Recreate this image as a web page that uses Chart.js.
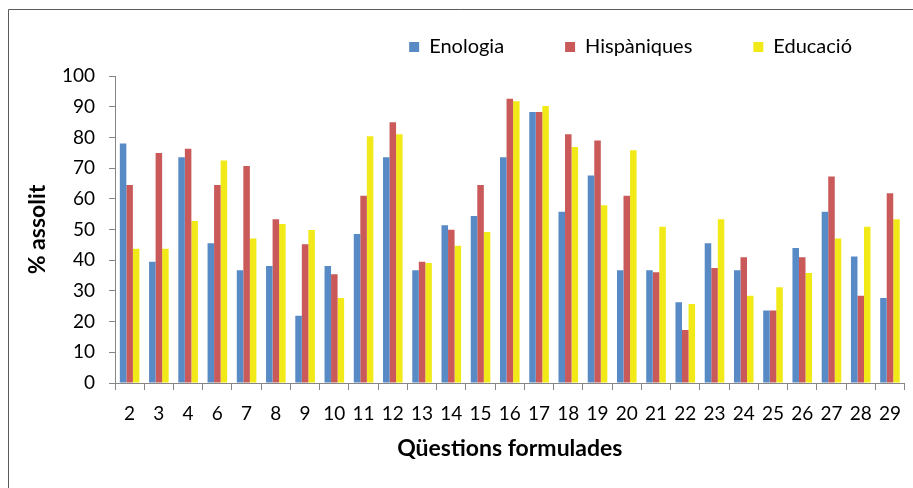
<!DOCTYPE html>
<html>
<head>
<meta charset="utf-8">
<script src="https://cdn.jsdelivr.net/npm/chart.js@4/dist/chart.umd.min.js"></script>
<style>
  html, body { margin: 0; padding: 0; background: #fff; }
  #wrap { width: 913px; height: 488px; }
</style>
</head>
<body>
<div id="wrap"><canvas id="graph" width="913" height="488"></canvas></div>
<script>
const questions = ['2','3','4','6','7','8','9','10','11','12','13','14','15','16','17','18','19','20','21','22','23','24','25','26','27','28','29']
const enologia = [78.0, 39.5, 73.5, 45.5, 36.7, 38.1, 21.9, 38.1, 48.5, 73.5, 36.7, 51.4, 54.4, 73.5, 88.3, 55.8, 67.6, 36.7, 36.7, 26.3, 45.5, 36.7, 23.6, 44.0, 55.8, 41.2, 27.7]
const hispaniques = [64.5, 74.9, 76.3, 64.5, 70.7, 53.3, 45.2, 35.4, 61.0, 84.9, 39.5, 49.9, 64.5, 92.6, 88.3, 81.0, 79.0, 61.0, 36.1, 17.3, 37.5, 41.0, 23.6, 41.0, 67.3, 28.4, 61.8]
const educacio = [43.7, 43.7, 52.8, 72.5, 47.1, 51.8, 49.8, 27.7, 80.4, 81.0, 39.1, 44.7, 49.2, 91.8, 90.2, 76.9, 57.9, 75.8, 50.9, 25.7, 53.3, 28.4, 31.2, 35.8, 47.1, 50.9, 53.3]

const FONT = "Lato"
const axisGrey = '#868686'

// fixed legend height so the plot starts where the original does
const legendBox = {
    id: 'legendBox',
    afterInit(chart) {
        const lg = chart.legend
        const fit = lg.fit
        lg.fit = function () {
            fit.call(this)
            this.height = 100
        }
    }
}

// the grey frame (only left and top show in the original)
const frame = {
    id: 'frame',
    afterDraw(chart) {
        const c = chart.ctx
        c.save()
        c.strokeStyle = '#5a5a5a'
        c.lineWidth = 1
        c.beginPath()
        c.moveTo(8.5, 488)
        c.lineTo(8.5, 9.5)
        c.lineTo(913, 9.5)
        c.stroke()
        c.restore()
    }
}

const ctx = document.querySelector('#graph').getContext('2d')

new Chart(ctx, {
    type: 'bar',
    data: {
        labels: questions,
        datasets: [
            { label: 'Enologia', data: enologia, backgroundColor: '#588ac5' },
            { label: 'Hispàniques', data: hispaniques, backgroundColor: '#c95a59' },
            { label: 'Educació', data: educacio, backgroundColor: '#f2ea18' }
        ]
    },
    options: {
        responsive: false,
        animation: false,
        devicePixelRatio: 1,
        datasets: {
            bar: { categoryPercentage: 0.67, barPercentage: 1.0 }
        },
        layout: { padding: { top: -24, left: 0, right: 0, bottom: 0 } },
        plugins: {
            tooltip: { enabled: false },
            legend: {
                position: 'top',
                align: 'end',
                labels: {
                    boxWidth: 10,
                    boxHeight: 10,
                    padding: 61,
                    color: '#000',
                    font: { family: FONT, size: 20 }
                }
            }
        },
        scales: {
            x: {
                afterFit(scale) { scale.height = 105 },
                grid: { drawOnChartArea: false, drawTicks: true, tickLength: 7, color: axisGrey },
                border: { color: axisGrey },
                ticks: { color: '#000', padding: 12, maxRotation: 0, autoSkip: false, font: { family: FONT, size: 19 } },
                title: {
                    display: true,
                    text: 'Qüestions formulades',
                    color: '#000',
                    padding: { top: 0, bottom: 26 },
                    font: { family: FONT, size: 23, weight: 'bold' }
                }
            },
            y: {
                min: 0,
                max: 100,
                afterFit(scale) { scale.width = 115 },
                grid: { drawOnChartArea: false, drawTicks: true, tickLength: 6, color: axisGrey },
                border: { color: axisGrey },
                ticks: { stepSize: 10, color: '#000', padding: 14, font: { family: FONT, size: 19 } },
                title: {
                    display: true,
                    text: '% assolit',
                    color: '#000',
                    padding: { top: 24, bottom: 0 },
                    font: { family: FONT, size: 23, weight: 'bold' }
                }
            }
        }
    },
    plugins: [legendBox, frame]
})
</script>
</body>
</html>
